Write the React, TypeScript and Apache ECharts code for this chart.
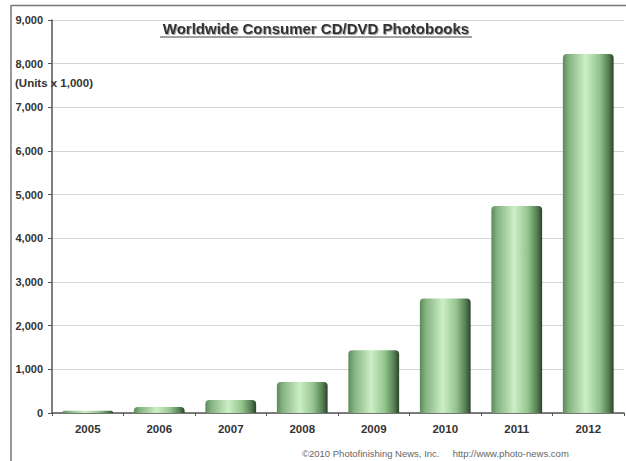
import React, { useEffect, useRef } from "react";
import * as echarts from "echarts";

const categories = ["2005", "2006", "2007", "2008", "2009", "2010", "2011", "2012"];
const units = [50, 140, 300, 710, 1435, 2620, 4740, 8220];
const titleText = "Worldwide Consumer CD/DVD Photobooks";
const unitsText = "(Units x 1,000)";
const footerText = "\u00A92010 Photofinishing News, Inc.     http://www.photo-news.com";

const FONT = "'Liberation Sans', Arial, sans-serif";

export default function App() {
  const ref = useRef<HTMLDivElement>(null);
  useEffect(() => {
    if (!ref.current) return;
    const chart = echarts.init(ref.current, undefined, { renderer: "svg" });
    const barColor = new echarts.graphic.LinearGradient(0, 0, 1, 0, [
      { offset: 0, color: "#5d8a5a" },
      { offset: 0.12, color: "#86b482" },
      { offset: 0.45, color: "#cdeec6" },
      { offset: 0.72, color: "#93c48d" },
      { offset: 0.9, color: "#557f52" },
      { offset: 1, color: "#2c432b" },
    ]);
    chart.setOption({
      animation: false,
      backgroundColor: "#ffffff",
      textStyle: { fontFamily: FONT },
      grid: { left: 52, right: 2, top: 20, bottom: 48, containLabel: false },
      xAxis: {
        type: "category",
        data: categories,
        boundaryGap: true,
        axisLine: { show: true, lineStyle: { color: "#555", width: 1.5 } },
        axisTick: { show: true, length: 3, alignWithLabel: false, lineStyle: { color: "#555" } },
        axisLabel: { color: "#333", fontSize: 11.5, fontWeight: "bold", margin: 10, fontFamily: FONT },
      },
      yAxis: {
        type: "value",
        min: 0,
        max: 9000,
        interval: 1000,
        axisLine: { show: true, lineStyle: { color: "#555", width: 1.5 } },
        axisTick: { show: true, length: 4, lineStyle: { color: "#555" } },
        axisLabel: {
          color: "#333",
          fontSize: 11,
          fontWeight: "bold",
          margin: 9,
          fontFamily: FONT,
          formatter: (v: number) => v.toLocaleString("en-US"),
        },
        splitLine: { show: true, lineStyle: { color: "#d4d4d4", width: 1 } },
      },
      series: [
        {
          type: "bar",
          data: units,
          barWidth: "71%",
          itemStyle: {
            color: barColor,
            borderRadius: [4, 4, 0, 0],
          },
        },
      ],
      graphic: [
        {
          type: "rect",
          shape: { x: 0, y: 0, width: 11, height: 461 },
          style: { fill: "#ffffff" },
          z: 100,
        },
        {
          type: "rect",
          shape: { x: 0, y: 0, width: 626, height: 5 },
          style: { fill: "#ffffff" },
          z: 100,
        },
        {
          type: "line",
          shape: { x1: 11, y1: 5.5, x2: 626, y2: 5.5 },
          style: { stroke: "#777", lineWidth: 1.5 },
          z: 101,
        },
        {
          type: "line",
          shape: { x1: 11, y1: 5, x2: 11, y2: 461 },
          style: { stroke: "#777", lineWidth: 1.5 },
          z: 101,
        },
        {
          type: "text",
          x: 316,
          y: 28,
          style: {
            text: titleText,
            fill: "#333",
            font: `bold 15px ${FONT}`,
            textAlign: "center",
            textVerticalAlign: "middle",
            textShadowColor: "rgba(0,0,0,0.35)",
            textShadowOffsetX: 1,
            textShadowOffsetY: 1,
            textShadowBlur: 1,
          },
          z: 50,
        },
        {
          type: "line",
          shape: { x1: 160, y1: 37, x2: 472, y2: 37 },
          style: { stroke: "#444", lineWidth: 1 },
          z: 50,
        },
        {
          type: "text",
          x: 15,
          y: 83,
          style: {
            text: unitsText,
            fill: "#333",
            font: `bold 11.5px ${FONT}`,
            textAlign: "left",
            textVerticalAlign: "middle",
          },
          z: 50,
        },
        {
          type: "text",
          x: 302,
          y: 453,
          style: {
            text: footerText,
            fill: "#666",
            font: `9.5px ${FONT}`,
            textAlign: "left",
            textVerticalAlign: "middle",
          },
          z: 50,
        },
      ],
    });
    return () => chart.dispose();
  }, []);
  return (
    <div
      ref={ref}
      style={{ position: "absolute", left: 0, top: 0, width: 626, height: 461 }}
    />
  );
}
